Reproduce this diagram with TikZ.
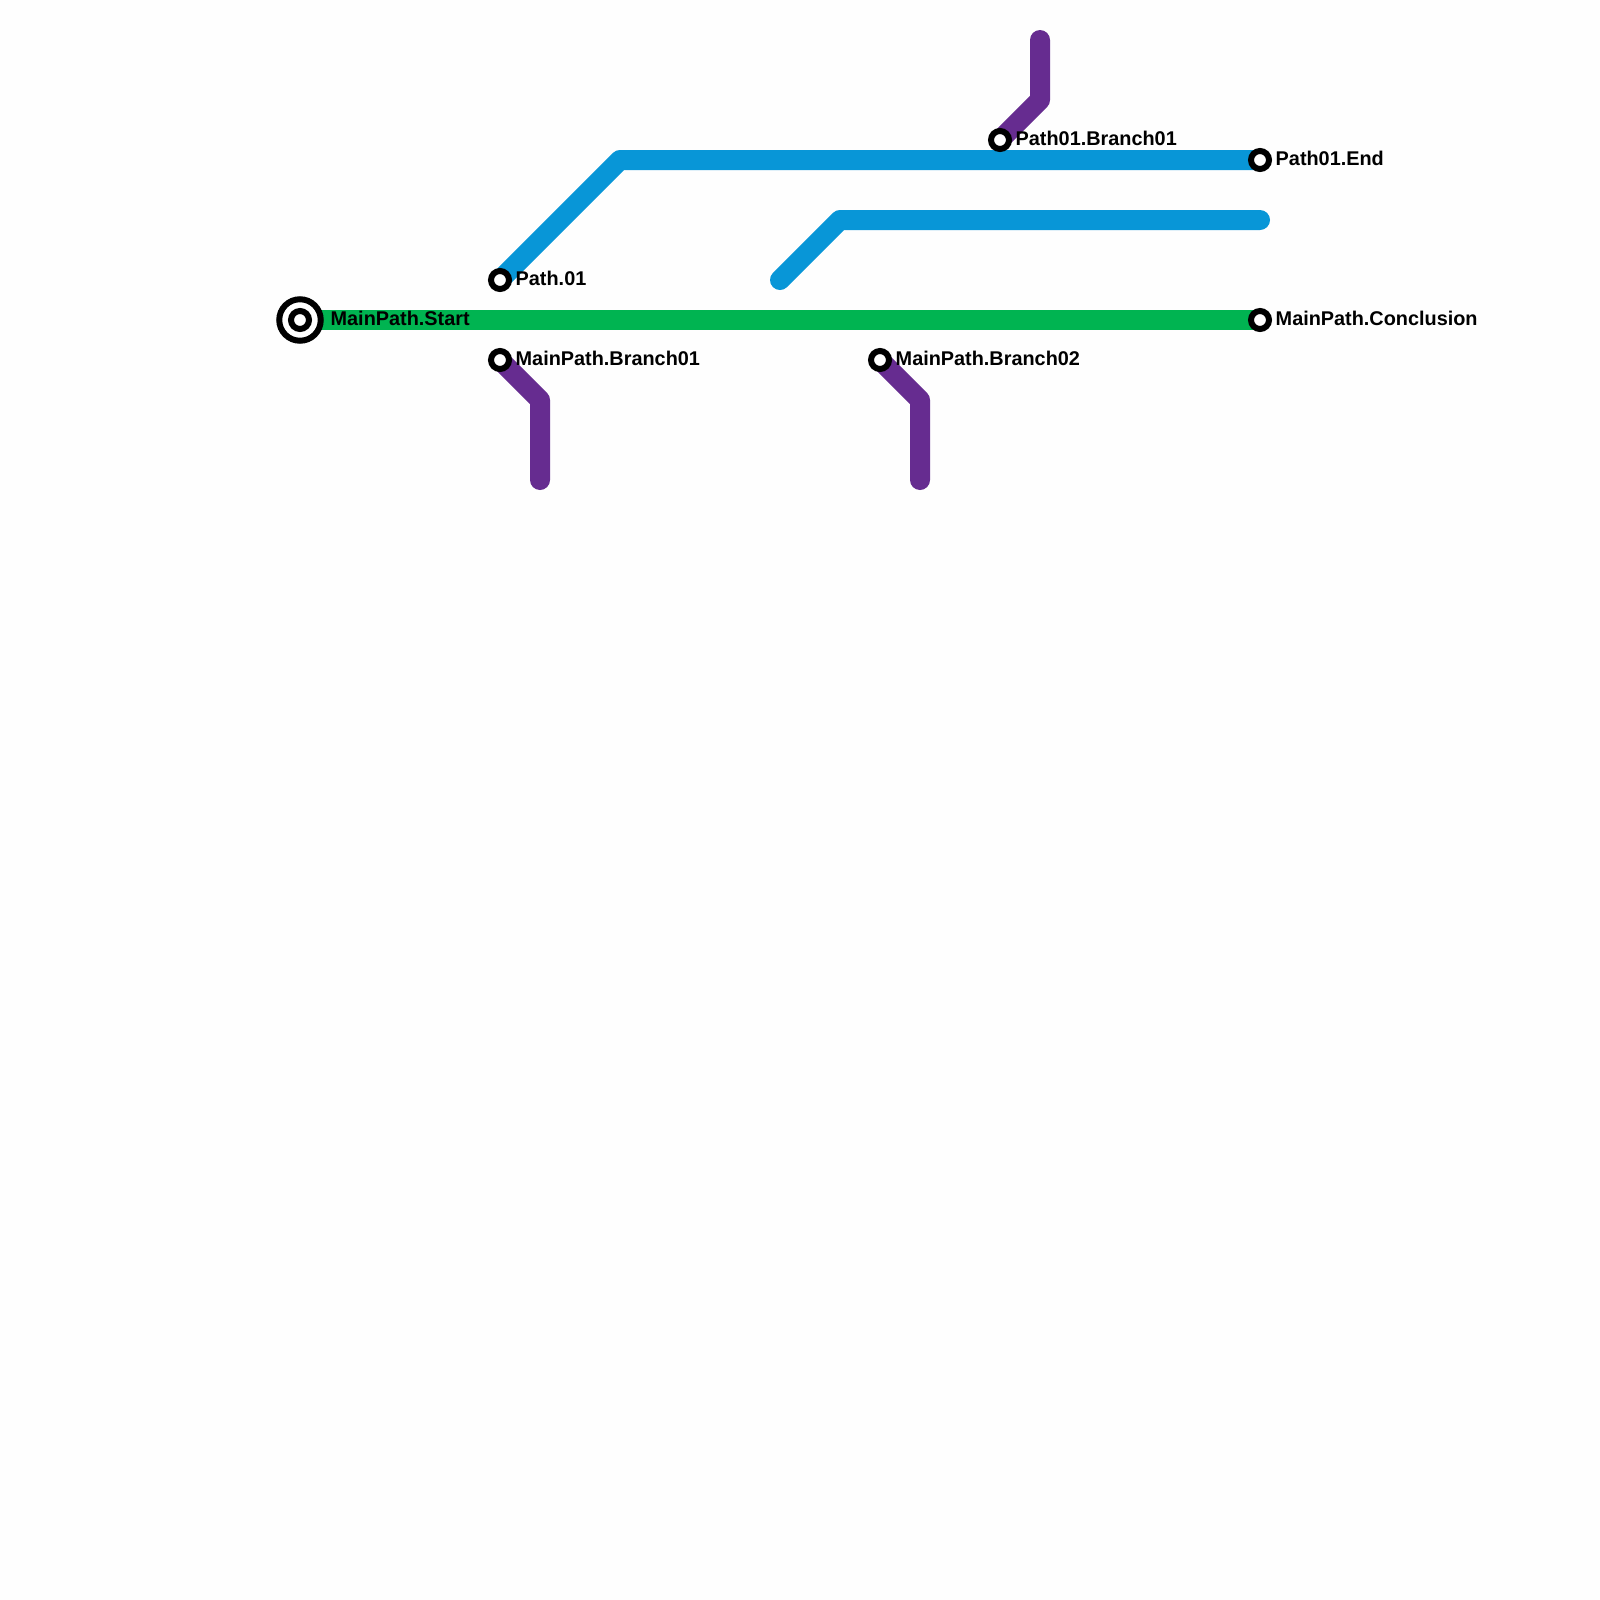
\documentclass[tikz,border=0pt]{standalone}
\usepackage{fontspec}
\setmainfont{Liberation Sans}
\usepackage{tikz}
\usetikzlibrary{positioning}
\usepackage{xcolor}
\definecolor{pathgreen}{RGB}{0,180,81}
\definecolor{pathblue}{RGB}{8,150,215}
\definecolor{pathpurple}{RGB}{102,44,144}
\definecolor{paper}{RGB}{254,254,254}
\tikzset{
  route/.style={line width=2mm, line cap=round, line join=round},
  station/.style={circle, draw=black, fill=white, line width=0.6mm, minimum size=1.8mm, inner sep=0pt},
  startring/.style={circle, draw=black, fill=white, line width=0.6mm, minimum size=4.15mm, inner sep=0pt},
  stationlabel/.style={font=\bfseries\fontsize{5.65pt}{7pt}\selectfont, text=black, inner sep=0pt, anchor=west, yshift=0.18mm}
}

\begin{document}
\begin{tikzpicture}[x=0.1cm, y=-0.1cm]
  \useasboundingbox[fill=paper] (0,0) rectangle (160,160);
  % Coordinates of the bends and free ends
  \coordinate (bendA) at (62,16);
  \coordinate (bendB) at (84,22);
  \coordinate (blueFree) at (78,28);
  \coordinate (blueEnd) at (126,22);
  \coordinate (bendC) at (54,40);
  \coordinate (tailC) at (54,48);
  \coordinate (bendD) at (92,40);
  \coordinate (tailD) at (92,48);
  \coordinate (bendE) at (104,10);
  \coordinate (tailE) at (104,4);
  % Stations
  \coordinate (startPos) at (30,32);
  \coordinate (pathPos) at (50,28);
  \coordinate (branchOnePos) at (50,36);
  \coordinate (branchTwoPos) at (88,36);
  \coordinate (topPos) at (100,14);
  \coordinate (pathEndPos) at (126,16);
  \coordinate (mainEndPos) at (126,32);
  % Lines
  \draw[route, pathgreen] (startPos) -- (mainEndPos);
  \draw[route, pathblue] (pathPos) -- (bendA) -- (pathEndPos);
  \draw[route, pathblue] (blueFree) -- (bendB) -- (blueEnd);
  \draw[route, pathpurple] (branchOnePos) -- (bendC) -- (tailC);
  \draw[route, pathpurple] (branchTwoPos) -- (bendD) -- (tailD);
  \draw[route, pathpurple] (topPos) -- (bendE) -- (tailE);
  % Station markers
  \node[startring] (startOuter) at (startPos) {};
  \node[station] (start) at (startPos) {};
  \node[station] (path) at (pathPos) {};
  \node[station] (branchOne) at (branchOnePos) {};
  \node[station] (branchTwo) at (branchTwoPos) {};
  \node[station] (top) at (topPos) {};
  \node[station] (pathEnd) at (pathEndPos) {};
  \node[station] (mainEnd) at (mainEndPos) {};
  % Labels
  \node[stationlabel, right=0.62mm of startOuter] {MainPath.Start};
  \node[stationlabel, right=0.3mm of path] {Path.01};
  \node[stationlabel, right=0.3mm of branchOne] {MainPath.Branch01};
  \node[stationlabel, right=0.3mm of branchTwo] {MainPath.Branch02};
  \node[stationlabel, right=0.3mm of top] {Path01.Branch01};
  \node[stationlabel, right=0.3mm of pathEnd] {Path01.End};
  \node[stationlabel, right=0.3mm of mainEnd] {MainPath.Conclusion};
\end{tikzpicture}
\end{document}
